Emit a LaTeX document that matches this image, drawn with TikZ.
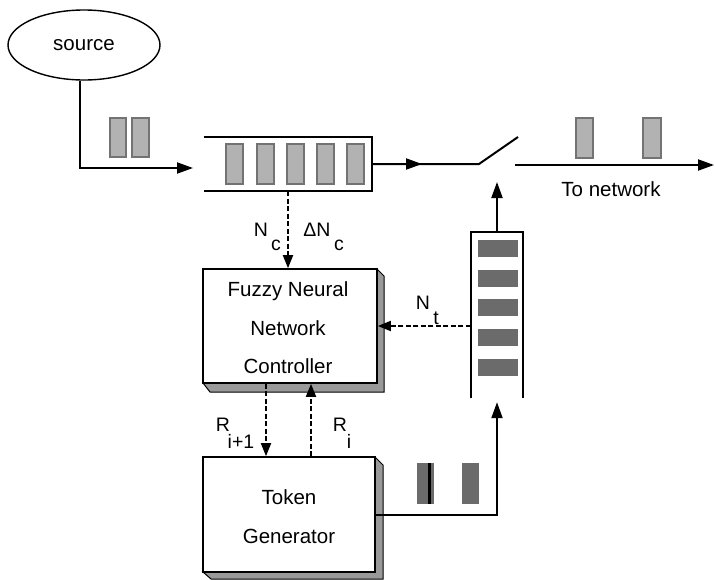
\documentclass[tikz,border=0pt]{standalone}
\usepackage{fontspec}
\setmainfont{Liberation Sans}
\usetikzlibrary{arrows.meta,shapes.geometric}
\begin{document}
\begin{tikzpicture}[x=1pt,y=-1pt,
  arr/.style={line width=2pt,-{Triangle[length=16pt,width=11pt]}},
  ln/.style={line width=2pt},
  darr/.style={line width=1.8pt,dash pattern=on 5pt off 2.5pt,-{Triangle[length=13pt,width=10pt]}},
  pkt/.style={fill=black!30,draw=black!55,line width=1.6pt},
  tok/.style={fill=black!58,draw=none},
  box/.style={draw,line width=1.6pt,fill=white,inner sep=0pt},
  side/.style={fill=black!40,draw,line width=1pt},
  txt/.style={font=\fontsize{20.5}{24}\selectfont,inner sep=0pt},
  lbl/.style={font=\fontsize{19.5}{22}\selectfont,inner sep=0pt},
]
\useasboundingbox (0,0) rectangle (715,579);
\fill[white] (0,0) rectangle (715,579);

% source
\node[ellipse,draw,line width=1.4pt,minimum width=152pt,minimum height=70pt,inner sep=0pt,txt] (source) at (84,45) {source};
\draw[pkt] (110,118) rectangle (126,157);
\draw[pkt] (132,118) rectangle (149,157);
\coordinate (qin) at (193,168);
\draw[arr] ([xshift=-4pt]source.south) |- (qin);

% queue
\node[minimum width=168pt,minimum height=54pt,inner sep=0pt] (queue) at (288,164) {};
\draw[ln] (queue.north west) -- (queue.north east) -- (queue.south east) -- (queue.south west);
\foreach \x in {226,257,287,317,347} \draw[pkt] (\x,144) rectangle ++(17,40);

% switch and output
\coordinate (sw) at (479,164);
\coordinate (swtip) at (518,137);
\coordinate (qmid) at (422,164);
\coordinate (out0) at (515,165);
\coordinate (out1) at (714,165);
\draw[ln] (queue.east) -- (sw) -- (swtip);
\draw[arr] (queue.east) -- (qmid);
\draw[arr] (out0) -- (out1);
\draw[pkt] (576,118) rectangle (593,158);
\draw[pkt] (643,118) rectangle (661,158);
\node[txt] (tonet) at (611,189) {To network};

% token buffer
\node[minimum width=52pt,minimum height=166pt,inner sep=0pt] (buf) at (497,315) {};
\draw[ln] (buf.south west) -- (buf.north west) -- (buf.north east) -- (buf.south east);
\foreach \y in {240,270,299,329,359} \fill[tok] (478,\y) rectangle ++(40,17);
\coordinate (swin) at (497,182);
\draw[arr] (buf.north) -- (swin);

% fuzzy neural network controller
\draw[side] (377,269) -- (384,276) -- (384,392) -- (210,392) -- (203,383) -- (377,383) -- cycle;
\node[box,minimum width=174pt,minimum height=114pt] (fnn) at (290,326) {};
\node[txt,align=center,font=\fontsize{20.5}{38.5}\selectfont] (fnnt) at (288,328) {Fuzzy Neural\\Network\\Controller};

% token generator
\draw[side] (375,457) -- (383,465) -- (383,579) -- (211,579) -- (203,572) -- (375,572) -- cycle;
\node[box,minimum width=172pt,minimum height=115pt] (tg) at (289,514.5) {};
\node[txt,align=center,font=\fontsize{20.5}{39}\selectfont] (tgt) at (289,517) {Token\\Generator};
\fill[tok] (417,463) rectangle (434,504);
\fill[black] (428,463) rectangle (431,504);
\fill[tok] (462,463) rectangle (479,504);

% connectors
\coordinate (ntl) at (0,326);
\draw[darr] (queue.south) -- (queue.south |- fnn.north);
\draw[darr] (buf.west |- ntl) -- (fnn.east |- ntl);
\draw[darr] ([xshift=-24pt]fnn.south) -- ([xshift=-24pt]fnn.south |- tg.north);
\draw[darr] ([xshift=21pt]fnn.south |- tg.north) -- ([xshift=21pt]fnn.south);
\draw[arr] (tg.east) -| ([yshift=-4pt]buf.south);

% labels
\node[lbl] (nc1) at (261,230) {N};
\node[lbl] (nc1s) at (276,245) {c};
\node[lbl] (nc2) at (317,230) {ΔN};
\node[lbl] (nc2s) at (339,245) {c};
\node[lbl] (nt) at (423,303) {N};
\node[lbl] (nts) at (436,318) {t};
\node[lbl] (r1) at (223,425) {R};
\node[lbl] (r1s) at (241,441) {i+1};
\node[lbl] (r2) at (340,425) {R};
\node[lbl] (r2s) at (349,441) {i};
\end{tikzpicture}
\end{document}
